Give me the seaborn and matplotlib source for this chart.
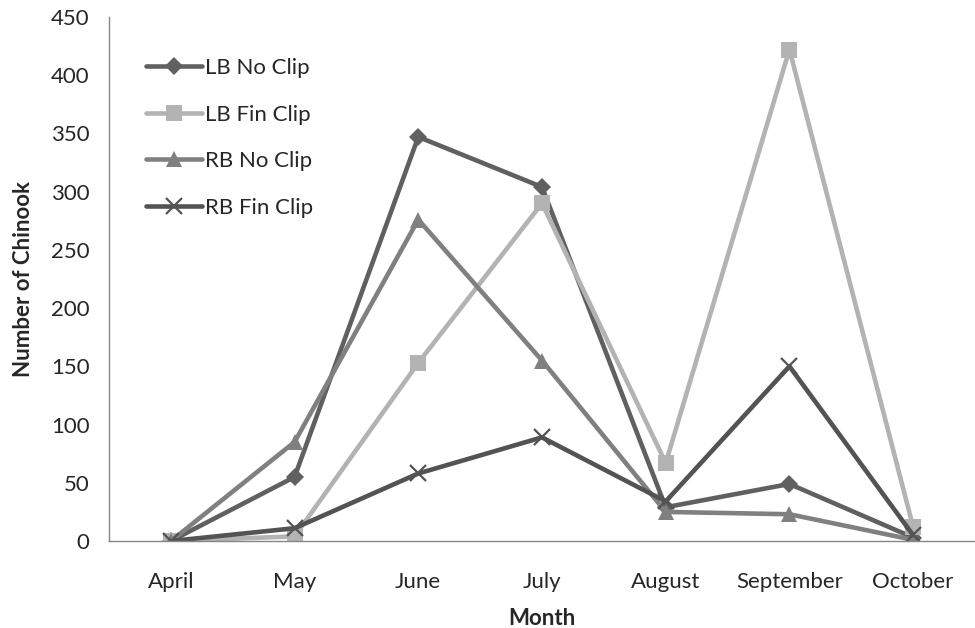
import numpy as np
import pandas as pd
import matplotlib
matplotlib.use("Agg")
import matplotlib.pyplot as plt
import seaborn as sns

# data
months = ["April", "May", "June", "July", "August", "September", "October"]
lb_no_clip = [0, 55, 347, 304, 29, 49, 3]
lb_fin_clip = [0, 4, 153, 290, 67, 422, 12]
rb_no_clip = [0, 85, 276, 155, 25, 23, 1]
rb_fin_clip = [0, 11, 58, 89, 34, 150, 5]

series_names = ["LB No Clip", "LB Fin Clip", "RB No Clip", "RB Fin Clip"]
series_vals = [lb_no_clip, lb_fin_clip, rb_no_clip, rb_fin_clip]
colors = ["#606060", "#b3b3b3", "#808080", "#535353"]
markers = ["D", "s", "^", "x"]
msizes = [9.5, 12, 11, 12]

sns.set_style("white")
plt.rcParams["font.family"] = ["Lato", "DejaVu Sans"]
fs = 16

fig = plt.figure(figsize=(9.75, 6.28), dpi=100)
ax = fig.add_axes([0.1118, 0.1385, 0.8882, 0.8345])

xpos = np.arange(len(months))
for name, vals, c, m, ms in zip(series_names, series_vals, colors, markers, msizes):
    df = pd.DataFrame({"x": xpos, "y": vals})
    if m == "x":
        sns.lineplot(data=df, x="x", y="y", ax=ax, color=c, linewidth=3.3, marker=m,
                     markersize=ms, markeredgewidth=1.6, markeredgecolor=c, label=name)
    else:
        sns.lineplot(data=df, x="x", y="y", ax=ax, color=c, linewidth=3.3, marker=m,
                     markersize=ms, markeredgewidth=0, markerfacecolor=c, label=name)

ax.set_xlim(-0.5, 6.44)
ax.set_ylim(0, 450)
ax.set_yticks(range(0, 451, 50))
ax.set_xticks(xpos)
ax.set_xticklabels(months)
ax.set_xticks(np.arange(-0.5, 6.6, 1), minor=True)
ax.tick_params(axis="x", which="major", length=0, labelsize=fs, pad=22)
ax.tick_params(axis="x", which="minor", length=8, width=1, color="#868686", direction="out")
ax.tick_params(axis="y", which="major", length=8, width=1, color="#868686", direction="out", labelsize=fs, pad=6)

for s in ["top", "right"]:
    ax.spines[s].set_visible(False)
for s in ["left", "bottom"]:
    ax.spines[s].set_color("#868686")
    ax.spines[s].set_linewidth(1)

ax.set_xlabel("Month", fontsize=fs, fontweight="bold", labelpad=12)
ax.set_ylabel("Number of Chinook", fontsize=fs, fontweight="bold", labelpad=12)

leg = ax.legend(loc="upper left", bbox_to_anchor=(0.02, 0.96), frameon=False, fontsize=fs,
                handlelength=2.5, handletextpad=0.15, labelspacing=1.2)

fig.savefig("out.png", dpi=100)
